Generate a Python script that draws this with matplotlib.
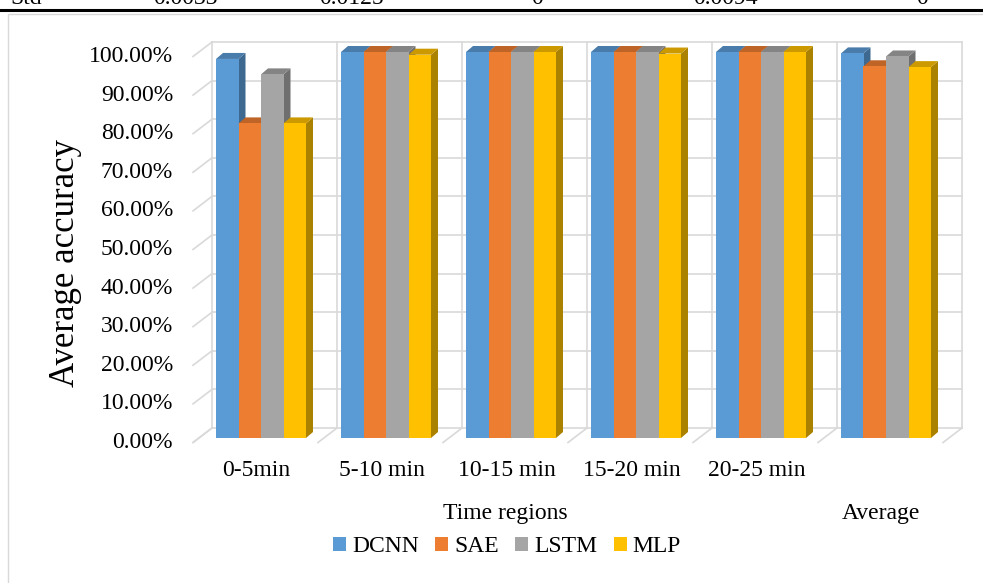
import matplotlib
matplotlib.use("Agg")
import matplotlib.pyplot as plt
from matplotlib.patches import Polygon, Patch, Rectangle
from matplotlib.lines import Line2D
from matplotlib.transforms import ScaledTranslation
from matplotlib.font_manager import FontProperties
import numpy as np

# ---------------- data ----------------
categories = ["0-5min", "5-10 min", "10-15 min", "15-20 min", "20-25 min", ""]
group_labels = ["Time regions", "Average"]
group_spans = [(0, 4), (5, 5)]
series_names = ["DCNN", "SAE", "LSTM", "MLP"]
dcnn = [98.2, 100.0, 100.0, 100.0, 100.0, 99.64]
sae = [81.5, 100.0, 100.0, 100.0, 100.0, 96.3]
lstm = [94.2, 100.0, 100.0, 100.0, 100.0, 98.84]
mlp = [81.5, 99.3, 100.0, 99.6, 100.0, 96.08]
yticks = [0, 10, 20, 30, 40, 50, 60, 70, 80, 90, 100]
ytick_labels = ["%.2f%%" % v for v in yticks]
top_row = ["Std", "0.0033", "0.0125", "0", "0.0094", "0"]

colors = ["#5B9BD5", "#ED7D31", "#A5A5A5", "#FFC000"]

SERIF = "Liberation Serif"
plt.rcParams["font.family"] = [SERIF, "DejaVu Sans"]

W, H, DPI = 983, 583, 100
fig = plt.figure(figsize=(W / DPI, H / DPI), dpi=DPI)

# axes = front plane of the bars
ax_l, ax_r = 198.5, 948.5
ax_b, ax_t = 438, 52
ax = fig.add_axes([ax_l / W, 1 - ax_b / H, (ax_r - ax_l) / W, (ax_b - ax_t) / H])
ax.set_xlim(-0.5, 5.5)
ax.set_ylim(0, 100)
ax.set_axis_off()

ux = (ax_r - ax_l) / 6.0      # px per category unit
uy = (ax_b - ax_t) / 100.0    # px per percent

def off(px, py):
    return px / ux, py / uy

bx, by = off(13.5, 10)     # back wall shift
fx, fy = off(-5.5, -4.5)   # front edge shift
dx, dy = off(7, 6)         # bar depth

grid_c = "#D9D9D9"
glw = 1.2
bounds = np.arange(-0.5, 6.0, 1.0)
for v in yticks:
    ax.add_line(Line2D([-0.5 + bx, 5.5 + bx], [v + by, v + by], color=grid_c, lw=glw, clip_on=False, zorder=1))
    ax.add_line(Line2D([-0.5 + fx, -0.5 + bx], [v + fy, v + by], color=grid_c, lw=glw, clip_on=False, zorder=1))
for b in bounds:
    ax.add_line(Line2D([b + bx, b + bx], [by, 100 + by], color=grid_c, lw=glw, clip_on=False, zorder=1))
    ax.add_line(Line2D([b + fx, b + bx], [fy, by], color=grid_c, lw=glw, clip_on=False, zorder=1))

def shade(c, f):
    r, g, b_ = matplotlib.colors.to_rgb(c)
    return (r * f, g * f, b_ * f)

bw = 0.18
all_series = [dcnn, sae, lstm, mlp]
for j, (vals, c) in enumerate(zip(all_series, colors)):
    x0s = np.arange(len(categories)) - 2 * bw + j * bw
    bars = ax.bar(x0s, vals, width=bw, align="edge", color=c, linewidth=0, clip_on=False)
    for i, (p, h, x0) in enumerate(zip(bars.patches, vals, x0s)):
        z = 10 + (i * 4 + j) * 3
        x1 = x0 + bw
        p.set_zorder(z + 2)
        side = Polygon([(x1, 0), (x1 + dx, dy), (x1 + dx, h + dy), (x1, h)], closed=True,
                       facecolor=shade(c, 0.67), edgecolor="none", clip_on=False, zorder=z)
        top = Polygon([(x0, h), (x1, h), (x1 + dx, h + dy), (x0 + dx, h + dy)], closed=True,
                      facecolor=shade(c, 0.8), edgecolor="none", clip_on=False, zorder=z + 1)
        ax.add_patch(side)
        ax.add_patch(top)

FS = 17
def px_off(px, py):
    return ax.transData + ScaledTranslation(px / DPI, py / DPI, fig.dpi_scale_trans)

# y tick labels
for v, lab in zip(yticks, ytick_labels):
    ax.text(-0.5, v, lab, transform=px_off(-25.5, -4.5), ha="right", va="center",
            fontsize=FS, color="#000000", family=SERIF)

# category labels
for i, lab in enumerate(categories):
    ax.text(i, 0, lab, transform=px_off(-4.5, -33), ha="center", va="center", fontsize=FS, family=SERIF)

# group labels
for lab, (a, b) in zip(group_labels, group_spans):
    ax.text((a + b) / 2.0, 0, lab, transform=px_off(-5.5, -76), ha="center", va="center",
            fontsize=FS, family=SERIF)

# y axis title
fig.text(65 / W, 1 - 263 / H, "Average accuracy", rotation=90, ha="center", va="center",
         fontsize=25, family=SERIF)

# legend
handles = [Patch(facecolor=c, edgecolor="none", label=n) for c, n in zip(colors, series_names)]
fig.legend(handles=handles, loc="center", bbox_to_anchor=(507 / W, 1 - 547 / H), ncol=4, frameon=False,
           prop=FontProperties(family=SERIF, size=FS), handlelength=0.55, handleheight=0.55,
           handletextpad=0.25, columnspacing=0.7, borderpad=0)

# chart border & table remnants above
fig.add_artist(Rectangle((7.5 / W, -0.1), 1.2, (H - 13.5) / H + 0.1, transform=fig.transFigure,
                         fill=False, edgecolor="#D9D9D9", lw=1.0))
fig.add_artist(Line2D([0, 1], [1 - 10 / H, 1 - 10 / H], transform=fig.transFigure, color="black", lw=2.2))
top_x = [10, 185, 351, 537, 725, 922]
for k, (s, xp) in enumerate(zip(top_row, top_x)):
    fig.text(xp / W, 1 - 4.5 / H, s, ha="left" if k == 0 else "center", va="baseline",
             fontsize=FS, family=SERIF)

fig.savefig("out.png", dpi=DPI)
